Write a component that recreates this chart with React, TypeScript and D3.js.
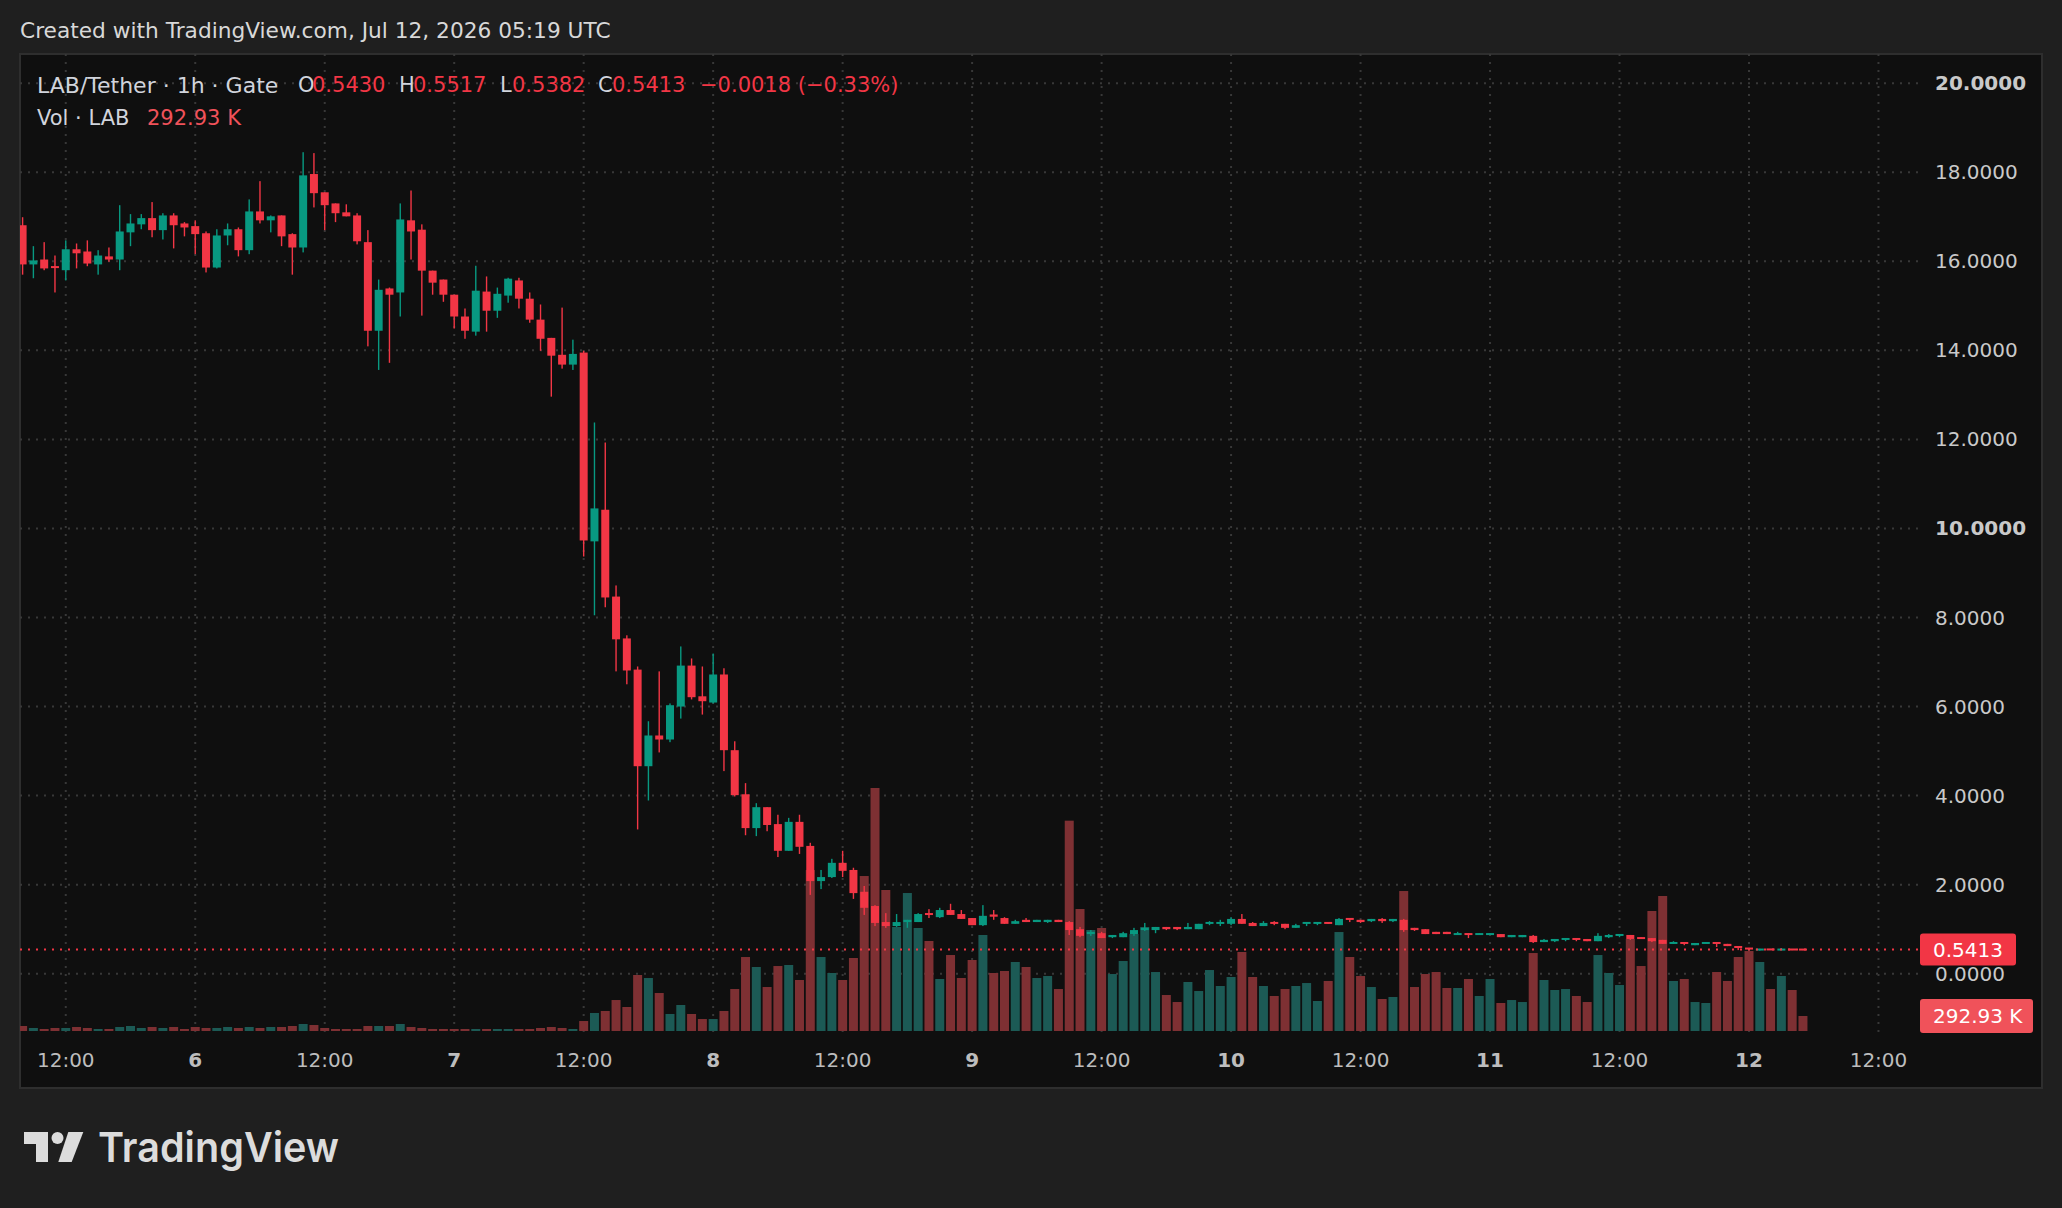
import { useEffect, useRef } from "react";
import * as d3 from "d3";

// LAB/Tether 1h candles from Jul 5 2026 08:00 UTC to Jul 12 2026 05:00 UTC
const START = Date.UTC(2026, 6, 5, 8);
const HOUR = 3600 * 1000;

// [open, high, low, close]
const OHLC: [number, number, number, number][] = [
  [16.81, 16.99, 15.7, 15.93], [15.93, 16.34, 15.62, 16.02], [16.04, 16.43, 15.8, 15.84], [15.89, 16.13, 15.3, 15.85],
  [15.8, 16.47, 15.57, 16.27], [16.27, 16.4, 15.84, 16.18], [16.22, 16.47, 15.89, 15.95], [15.93, 16.25, 15.7, 16.13],
  [16.11, 16.31, 15.99, 16.04], [16.04, 17.26, 15.8, 16.67], [16.65, 17.06, 16.34, 16.85], [16.83, 17.06, 16.72, 16.97],
  [16.97, 17.33, 16.54, 16.7], [16.7, 17.08, 16.49, 17.03], [17.03, 17.08, 16.29, 16.81], [16.85, 16.88, 16.56, 16.76],
  [16.79, 16.92, 16.16, 16.61], [16.63, 16.67, 15.75, 15.86], [15.86, 16.72, 15.84, 16.58], [16.58, 16.85, 16.36, 16.72],
  [16.72, 16.76, 16.11, 16.25], [16.25, 17.39, 16.16, 17.12], [17.12, 17.8, 16.85, 16.92], [16.92, 17.03, 16.65, 17.01],
  [17.03, 17.03, 16.34, 16.56], [16.61, 16.63, 15.7, 16.31], [16.31, 18.45, 16.2, 17.93], [17.96, 18.43, 17.21, 17.53],
  [17.55, 17.55, 16.7, 17.26], [17.3, 17.3, 16.88, 17.08], [17.1, 17.28, 17.01, 17.01], [17.03, 17.08, 16.38, 16.45],
  [16.43, 16.7, 14.09, 14.44], [14.44, 15.59, 13.56, 15.36], [15.39, 15.41, 13.72, 15.25], [15.3, 17.3, 14.76, 16.94],
  [16.92, 17.59, 16.04, 16.67], [16.71, 16.83, 14.78, 15.79], [15.79, 15.79, 15.25, 15.52], [15.59, 15.59, 15.09, 15.25],
  [15.25, 15.25, 14.49, 14.76], [14.76, 14.94, 14.26, 14.44], [14.42, 15.9, 14.33, 15.34], [15.32, 15.66, 14.42, 14.89],
  [14.89, 15.41, 14.73, 15.27], [15.23, 15.63, 15.07, 15.61], [15.57, 15.63, 14.94, 15.16], [15.16, 15.3, 14.62, 14.69],
  [14.69, 15.03, 13.99, 14.26], [14.28, 14.28, 12.96, 13.88], [13.9, 14.96, 13.59, 13.68], [13.68, 14.24, 13.56, 13.92],
  [13.95, 13.99, 9.37, 9.73], [9.71, 12.38, 8.05, 10.45], [10.42, 11.93, 8.23, 8.45], [8.47, 8.72, 6.79, 7.51],
  [7.53, 7.6, 6.5, 6.81], [6.83, 6.9, 3.24, 4.66], [4.66, 5.67, 3.89, 5.35], [5.35, 6.79, 4.97, 5.26],
  [5.26, 6.07, 5.2, 6.03], [6.0, 7.35, 5.73, 6.92], [6.92, 7.08, 6.16, 6.21], [6.23, 6.9, 5.82, 6.12],
  [6.09, 7.19, 6.07, 6.72], [6.72, 6.86, 4.55, 5.02], [5.02, 5.22, 3.98, 4.01], [4.03, 4.28, 3.11, 3.27],
  [3.27, 3.83, 3.09, 3.74], [3.74, 3.74, 3.2, 3.34], [3.36, 3.57, 2.62, 2.76], [2.76, 3.5, 2.76, 3.41],
  [3.41, 3.57, 2.69, 2.85], [2.87, 2.94, 1.77, 2.08], [2.08, 2.33, 1.9, 2.17], [2.17, 2.58, 2.15, 2.49],
  [2.49, 2.76, 2.17, 2.31], [2.33, 2.38, 1.68, 1.81], [1.84, 1.97, 1.32, 1.48], [1.52, 1.54, 1.07, 1.14],
  [1.16, 1.36, 1.03, 1.07], [1.07, 1.34, 1.05, 1.16], [1.16, 1.21, 1.03, 1.21], [1.16, 1.36, 1.16, 1.34],
  [1.36, 1.45, 1.25, 1.32], [1.27, 1.48, 1.25, 1.43], [1.43, 1.57, 1.32, 1.32], [1.34, 1.43, 1.23, 1.23],
  [1.25, 1.25, 1.09, 1.09], [1.09, 1.54, 1.07, 1.3], [1.33, 1.43, 1.21, 1.28], [1.25, 1.27, 1.12, 1.12],
  [1.12, 1.21, 1.12, 1.18], [1.21, 1.25, 1.16, 1.16], [1.16, 1.21, 1.16, 1.21], [1.16, 1.21, 1.14, 1.21],
  [1.21, 1.21, 1.16, 1.16], [1.16, 1.18, 0.87, 0.98], [1.0, 1.05, 0.82, 0.85], [0.89, 0.98, 0.85, 0.94],
  [0.91, 0.94, 0.8, 0.8], [0.82, 0.87, 0.8, 0.87], [0.82, 0.94, 0.82, 0.91], [0.89, 1.03, 0.85, 0.98],
  [0.98, 1.14, 0.96, 1.03], [0.98, 1.05, 0.91, 1.05], [1.05, 1.05, 0.98, 1.0], [1.05, 1.05, 0.98, 1.0],
  [1.0, 1.14, 1.0, 1.05], [1.0, 1.12, 1.0, 1.12], [1.12, 1.18, 1.09, 1.16], [1.12, 1.21, 1.07, 1.16],
  [1.12, 1.27, 1.09, 1.23], [1.23, 1.34, 1.12, 1.12], [1.14, 1.16, 1.07, 1.07], [1.07, 1.18, 1.07, 1.14],
  [1.16, 1.18, 1.09, 1.12], [1.12, 1.12, 1.0, 1.03], [1.03, 1.12, 1.03, 1.09], [1.12, 1.16, 1.07, 1.16],
  [1.12, 1.16, 1.09, 1.16], [1.16, 1.16, 1.12, 1.12], [1.09, 1.25, 1.09, 1.23], [1.25, 1.25, 1.16, 1.21],
  [1.21, 1.21, 1.14, 1.16], [1.18, 1.23, 1.16, 1.23], [1.23, 1.25, 1.14, 1.18], [1.18, 1.23, 1.16, 1.23],
  [1.21, 1.23, 0.94, 0.98], [1.03, 1.03, 0.96, 0.98], [1.0, 1.0, 0.89, 0.89], [0.94, 0.94, 0.89, 0.89],
  [0.94, 0.94, 0.89, 0.89], [0.87, 0.94, 0.87, 0.91], [0.91, 0.91, 0.8, 0.87], [0.87, 0.91, 0.87, 0.91],
  [0.87, 0.91, 0.87, 0.91], [0.89, 0.89, 0.82, 0.82], [0.82, 0.87, 0.82, 0.87], [0.82, 0.87, 0.82, 0.87],
  [0.85, 0.87, 0.69, 0.71], [0.71, 0.78, 0.71, 0.76], [0.73, 0.78, 0.71, 0.78], [0.76, 0.8, 0.73, 0.8],
  [0.8, 0.8, 0.73, 0.76], [0.78, 0.78, 0.73, 0.73], [0.73, 0.91, 0.73, 0.85], [0.82, 0.89, 0.8, 0.87],
  [0.85, 0.89, 0.82, 0.89], [0.87, 0.87, 0.76, 0.78], [0.82, 0.82, 0.78, 0.78], [0.8, 0.8, 0.71, 0.73],
  [0.76, 0.76, 0.67, 0.67], [0.67, 0.73, 0.67, 0.71], [0.71, 0.71, 0.64, 0.67], [0.64, 0.69, 0.64, 0.69],
  [0.67, 0.71, 0.67, 0.71], [0.71, 0.71, 0.6, 0.67], [0.67, 0.67, 0.62, 0.62], [0.62, 0.62, 0.53, 0.58],
  [0.58, 0.58, 0.53, 0.55], [0.53, 0.56, 0.52, 0.555], [0.555, 0.555, 0.535, 0.535], [0.532, 0.577, 0.532, 0.552],
  [0.552, 0.552, 0.535, 0.535], [0.543, 0.5517, 0.5382, 0.5413],
];

// volume in thousands of LAB
const VOLUME_K: number[] = [
  98, 59, 39, 59, 59, 78, 59, 39, 39, 78,
  98, 59, 78, 59, 78, 39, 78, 59, 59, 78,
  59, 78, 59, 78, 78, 98, 137, 117, 59, 39,
  39, 39, 98, 98, 98, 137, 78, 59, 39, 39,
  39, 39, 39, 39, 39, 39, 39, 39, 59, 78,
  59, 39,
  195, 352, 391, 605, 469, 1094, 1035, 742, 332, 508,
  332, 234, 234, 391, 820, 1445, 1250, 859, 1269, 1289,
  996, 3144, 1445, 1133, 996, 1426, 3027, 4746, 2754, 2031,
  2695, 2012, 1758, 1016, 1484, 1035, 1387, 1875, 1133, 1172,
  1348, 1250, 1035, 1074, 820, 4108, 2383, 1973, 2012, 1113,
  1367, 1894, 2031, 1152, 703, 566, 957, 781, 1191, 879,
  1055, 1543, 1055, 879, 684, 820, 879, 937, 586, 977,
  1933, 1445, 1074, 859, 625, 664, 2734, 859, 1113, 1152,
  840, 840, 1016, 684, 1016, 547, 605, 566, 1523, 996,
  801, 820, 684, 566, 1484, 1133, 898, 1797, 1269, 2344,
  2637, 977, 1016, 566, 547, 1152, 977, 1445, 1562, 1348,
  820, 1074, 801, 292.93,
];

const PRICE_TICKS = [0, 2, 4, 6, 8, 10, 12, 14, 16, 18, 20];
const BOLD_PRICE_TICKS = [10, 20];

const TIME_TICKS: [string, string][] = [
  ["2026-07-05T12:00Z", "12:00"], ["2026-07-06T00:00Z", "6"], ["2026-07-06T12:00Z", "12:00"],
  ["2026-07-07T00:00Z", "7"], ["2026-07-07T12:00Z", "12:00"], ["2026-07-08T00:00Z", "8"],
  ["2026-07-08T12:00Z", "12:00"], ["2026-07-09T00:00Z", "9"], ["2026-07-09T12:00Z", "12:00"],
  ["2026-07-10T00:00Z", "10"], ["2026-07-10T12:00Z", "12:00"], ["2026-07-11T00:00Z", "11"],
  ["2026-07-11T12:00Z", "12:00"], ["2026-07-12T00:00Z", "12"], ["2026-07-12T12:00Z", "12:00"],
];

const LAST_PRICE = "0.5413";
const LAST_VOLUME = "292.93 K";

const UP = "#089981";
const DOWN = "#f23645";
const UP_VOL = "#1c5a55";
const DOWN_VOL = "#7e3033";
const FONT = "'DejaVu Sans', Verdana, sans-serif";

export default function App() {
  const svgRef = useRef<SVGSVGElement>(null);

  useEffect(() => {
    if (!svgRef.current) return;
    const svg = d3.select(svgRef.current);
    svg.selectAll("*").remove();

    const width = 2062;
    const height = 1208;
    const pane = { left: 20, right: 1919, top: 54, bottom: 1032 };
    const frame = { left: 20, right: 2042, top: 54, bottom: 1088 };

    const data = OHLC.map(([o, h, l, c], i) => ({
      t: new Date(START + i * HOUR),
      o, h, l, c,
      v: VOLUME_K[i],
    }));

    const x = d3
      .scaleUtc()
      .domain([new Date(START), new Date(START + 172 * HOUR)])
      .range([22.6, 22.6 + 172 * 10.79]);
    const y = d3.scaleLinear().domain([0, 20]).range([973.7, 83.2]);
    const yVol = d3.scaleLinear().domain([0, 5000]).range([1031, 775]);

    svg.attr("width", width).attr("height", height);

    // background
    svg.append("rect").attr("width", width).attr("height", height).attr("fill", "#1f1f1f");
    svg
      .append("rect")
      .attr("x", frame.left)
      .attr("y", frame.top)
      .attr("width", frame.right - frame.left)
      .attr("height", frame.bottom - frame.top)
      .attr("fill", "#0f0f0f")
      .attr("stroke", "#2e2e2e")
      .attr("stroke-width", 2);

    svg
      .append("defs")
      .append("clipPath")
      .attr("id", "pane-clip")
      .append("rect")
      .attr("x", pane.left)
      .attr("y", pane.top)
      .attr("width", pane.right - pane.left)
      .attr("height", pane.bottom - pane.top);

    // Grid lines (dotted)
    const grid = svg.append("g");
    PRICE_TICKS.forEach((p) => {
      grid
        .append("line")
        .attr("x1", pane.left)
        .attr("x2", pane.right)
        .attr("y1", y(p))
        .attr("y2", y(p))
        .attr("stroke", "#383838")
        .attr("stroke-width", 2)
        .attr("stroke-dasharray", "2,6");
    });
    TIME_TICKS.forEach(([iso]) => {
      const tx = x(new Date(iso));
      grid
        .append("line")
        .attr("x1", tx)
        .attr("x2", tx)
        .attr("y1", pane.top)
        .attr("y2", pane.bottom)
        .attr("stroke", "#383838")
        .attr("stroke-width", 2)
        .attr("stroke-dasharray", "2,6");
    });

    const plot = svg.append("g").attr("clip-path", "url(#pane-clip)");

    // Volume bars
    plot
      .selectAll(".vol")
      .data(data)
      .enter()
      .append("rect")
      .attr("x", (d) => x(d.t) - 4.5)
      .attr("width", 9)
      .attr("y", (d) => yVol(d.v))
      .attr("height", (d) => yVol(0) - yVol(d.v))
      .attr("fill", (d) => (d.c >= d.o ? UP_VOL : DOWN_VOL));

    // Candles
    const candle = plot.selectAll(".candle").data(data).enter().append("g");
    candle
      .append("rect")
      .attr("x", (d) => x(d.t) - 0.7)
      .attr("width", 1.4)
      .attr("y", (d) => y(d.h))
      .attr("height", (d) => Math.max(1, y(d.l) - y(d.h)))
      .attr("fill", (d) => (d.c >= d.o ? UP : DOWN));
    candle
      .append("rect")
      .attr("x", (d) => x(d.t) - 4)
      .attr("width", 8)
      .attr("y", (d) => {
        const top = y(Math.max(d.o, d.c));
        const hgt = Math.abs(y(d.o) - y(d.c));
        return hgt < 2 ? (top + y(Math.min(d.o, d.c))) / 2 - 1 : top;
      })
      .attr("height", (d) => Math.max(2, Math.abs(y(d.o) - y(d.c))))
      .attr("fill", (d) => (d.c >= d.o ? UP : DOWN));

    // Last price line
    const last = data[data.length - 1];
    svg
      .append("line")
      .attr("x1", pane.left)
      .attr("x2", pane.right)
      .attr("y1", y(last.c))
      .attr("y2", y(last.c))
      .attr("stroke", DOWN)
      .attr("stroke-width", 2)
      .attr("stroke-dasharray", "2,6");

    // Price scale labels
    PRICE_TICKS.forEach((p) => {
      svg
        .append("text")
        .attr("x", 1935)
        .attr("y", y(p))
        .attr("dominant-baseline", "central")
        .attr("font-family", FONT)
        .attr("font-size", "20px")
        .attr("font-weight", BOLD_PRICE_TICKS.includes(p) ? "bold" : "normal")
        .attr("fill", "#c9c9c9")
        .text(p.toFixed(4));
    });

    // Last price badge
    svg
      .append("rect")
      .attr("x", 1920)
      .attr("y", y(last.c) - 16)
      .attr("width", 96)
      .attr("height", 32)
      .attr("rx", 3)
      .attr("fill", DOWN);
    svg
      .append("text")
      .attr("x", 1933)
      .attr("y", y(last.c))
      .attr("dominant-baseline", "central")
      .attr("font-family", FONT)
      .attr("font-size", "20px")
      .attr("fill", "#ffffff")
      .text(LAST_PRICE);

    // Last volume badge
    svg
      .append("rect")
      .attr("x", 1920)
      .attr("y", yVol(last.v) - 17)
      .attr("width", 113)
      .attr("height", 34)
      .attr("rx", 3)
      .attr("fill", "#f0525a");
    svg
      .append("text")
      .attr("x", 1933)
      .attr("y", yVol(last.v))
      .attr("dominant-baseline", "central")
      .attr("font-family", FONT)
      .attr("font-size", "20px")
      .attr("fill", "#ffffff")
      .text(LAST_VOLUME);

    // Time scale labels
    TIME_TICKS.forEach(([iso, label]) => {
      svg
        .append("text")
        .attr("x", x(new Date(iso)))
        .attr("y", 1060)
        .attr("text-anchor", "middle")
        .attr("dominant-baseline", "central")
        .attr("font-family", FONT)
        .attr("font-size", "20px")
        .attr("font-weight", label.includes(":") ? "normal" : "bold")
        .attr("fill", "#bdbdbd")
        .text(label);
    });

    // Header
    svg
      .append("text")
      .attr("x", 20)
      .attr("y", 30)
      .attr("dominant-baseline", "central")
      .attr("font-family", FONT)
      .attr("font-size", "21.7px")
      .attr("fill", "#d8d8d8")
      .text("Created with TradingView.com, Jul 12, 2026 05:19 UTC");

    // Legend
    const legendItems: [string, number, number, string, number][] = [
      ["LAB/Tether · 1h · Gate", 37, 85, "#d1d4dc", 22],
      ["O", 298, 85, "#d1d4dc", 21],
      [last.o.toFixed(4), 312, 85, DOWN, 21],
      ["H", 399, 85, "#d1d4dc", 21],
      [last.h.toFixed(4), 413, 85, DOWN, 21],
      ["L", 500, 85, "#d1d4dc", 21],
      [last.l.toFixed(4), 512, 85, DOWN, 21],
      ["C", 598, 85, "#d1d4dc", 21],
      [last.c.toFixed(4), 612, 85, DOWN, 21],
      ["−0.0018 (−0.33%)", 700, 85, DOWN, 21],
      ["Vol · LAB", 37, 118, "#d1d4dc", 21],
      [LAST_VOLUME, 147, 118, "#f0525a", 21],
    ];
    legendItems.forEach(([txt, lx, ly, col, fs]) => {
      svg
        .append("text")
        .attr("x", lx)
        .attr("y", ly)
        .attr("dominant-baseline", "central")
        .attr("font-family", FONT)
        .attr("font-size", `${fs}px`)
        .attr("fill", col)
        .text(txt);
    });

    // TradingView logo
    const logo = svg.append("g").attr("fill", "#dcdcdc");
    logo.append("path").attr("d", "M24,1132 H48 V1162 H36 V1144 H24 Z");
    logo.append("circle").attr("cx", 57.5).attr("cy", 1138).attr("r", 6);
    logo.append("path").attr("d", "M68.3,1132 H83.3 L71.7,1162 H58.3 Z");
    logo
      .append("text")
      .attr("x", 98)
      .attr("y", 1162)
      .attr("font-family", "Inter, 'Noto Sans', sans-serif")
      .attr("font-weight", 600)
      .attr("font-size", "41px")
      .attr("textLength", 241)
      .attr("lengthAdjust", "spacingAndGlyphs")
      .text("TradingView");
  }, []);

  return (
    <div style={{ position: "absolute", left: 0, top: 0 }}>
      <svg ref={svgRef} style={{ display: "block" }} />
    </div>
  );
}
